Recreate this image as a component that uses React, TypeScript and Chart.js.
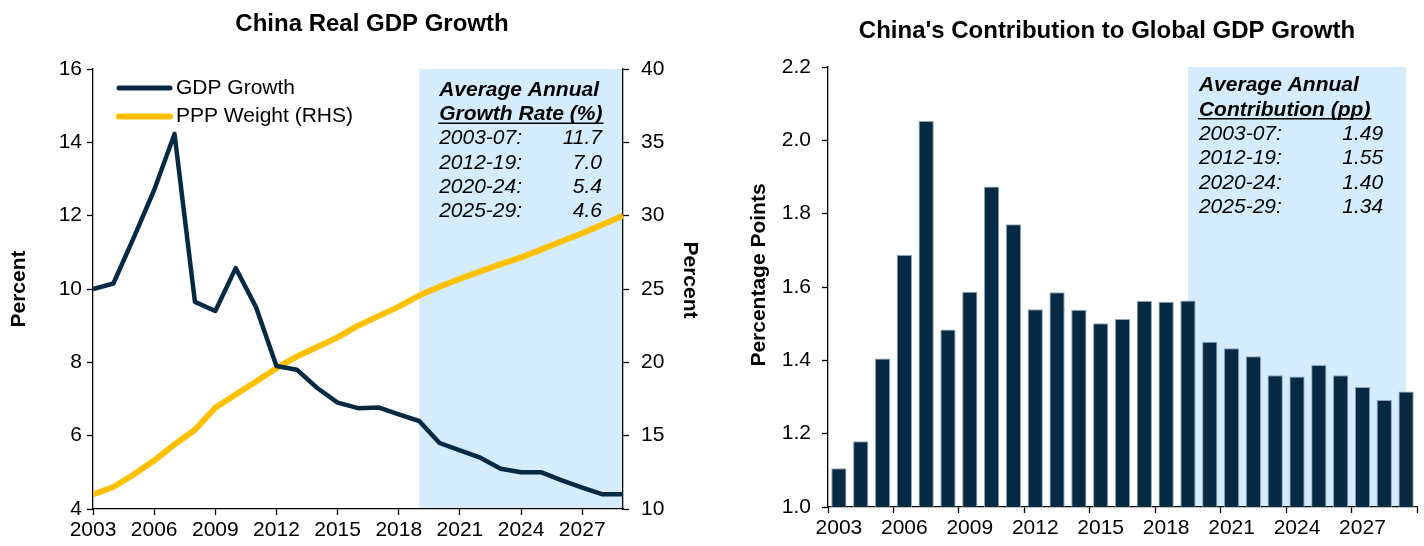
import React, { useEffect, useRef } from 'react';
import { Chart, registerables } from 'chart.js';

Chart.register(...registerables);

// ---------- data ----------
const YEARS = [2003, 2004, 2005, 2006, 2007, 2008, 2009, 2010, 2011, 2012, 2013, 2014, 2015, 2016, 2017, 2018, 2019, 2020, 2021, 2022, 2023, 2024, 2025, 2026, 2027, 2028, 2029];
const GDP_GROWTH = [10.0, 10.15, 11.4, 12.7, 14.23, 9.65, 9.4, 10.57, 9.5, 7.9, 7.8, 7.3, 6.9, 6.75, 6.77, 6.58, 6.4, 5.8, 5.6, 5.4, 5.1, 5.0, 5.0, 4.78, 4.58, 4.4, 4.4];
const PPP_WEIGHT = [11.0, 11.5, 12.35, 13.3, 14.4, 15.4, 16.9, 17.8, 18.7, 19.6, 20.4, 21.05, 21.7, 22.5, 23.15, 23.8, 24.55, 25.15, 25.7, 26.2, 26.7, 27.15, 27.7, 28.25, 28.8, 29.4, 30.0];
const LEFT_X_TICKS = [2003, 2006, 2009, 2012, 2015, 2018, 2021, 2024, 2027];
const SHADE_START = 2019;
const SHADE_END = 2029;

const CONTRIB_LABELS = YEARS.map((y) => String(y));
const CONTRIB = [1.106, 1.179, 1.405, 1.687, 2.053, 1.484, 1.587, 1.874, 1.771, 1.539, 1.586, 1.538, 1.501, 1.513, 1.562, 1.560, 1.563, 1.451, 1.433, 1.411, 1.359, 1.356, 1.387, 1.359, 1.327, 1.292, 1.315];

const PERIODS = ['2003-07:', '2012-19:', '2020-24:', '2025-29:'];
const GROWTH_AVGS = ['11.7', '7.0', '5.4', '4.6'];
const CONTRIB_AVGS = ['1.49', '1.55', '1.40', '1.34'];

const LEFT_TITLE = 'China Real GDP Growth';
const RIGHT_TITLE = "China's Contribution to Global GDP Growth";

// ---------- style ----------
const FONT = '"Liberation Sans", Arial, Helvetica, sans-serif';
const NAVY = '#062a44';
const GOLD = '#ffc000';
const SHADE = '#d4ecfc';
const W = 712;
const H = 546;

Chart.defaults.font.family = FONT;
Chart.defaults.color = '#000';

const tickFont = { family: FONT, size: 21 };

function drawAnnotation(ctx: CanvasRenderingContext2D, left: number, right: number, top: number, head1: string, head2: string, values: string[]) {
  ctx.save();
  ctx.fillStyle = '#000';
  ctx.textBaseline = 'middle';
  ctx.textAlign = 'left';
  ctx.font = `italic bold 21px ${FONT}`;
  ctx.fillText(head1, left, top);
  ctx.fillText(head2, left, top + 24.3);
  const w = ctx.measureText(head2).width;
  ctx.strokeStyle = '#000';
  ctx.lineWidth = 1.6;
  ctx.beginPath();
  ctx.moveTo(left - 1, top + 24.3 + 9);
  ctx.lineTo(left + w + 1, top + 24.3 + 9);
  ctx.stroke();
  ctx.font = `italic 21px ${FONT}`;
  PERIODS.forEach((p, i) => {
    const y = top + 24.3 * (i + 2);
    ctx.textAlign = 'left';
    ctx.fillText(p, left, y);
    ctx.textAlign = 'right';
    ctx.fillText(values[i], right, y);
  });
  ctx.restore();
}

function drawRotated(ctx: CanvasRenderingContext2D, text: string, x: number, y: number, angle: number) {
  ctx.save();
  ctx.translate(x, y);
  ctx.rotate(angle);
  ctx.font = `bold 21px ${FONT}`;
  ctx.fillStyle = '#000';
  ctx.textAlign = 'center';
  ctx.textBaseline = 'alphabetic';
  ctx.fillText(text, 0, 0);
  ctx.restore();
}

const leftPlugin = {
  id: 'leftDecor',
  beforeDraw(chart: any) {
    const { ctx, chartArea, scales } = chart;
    const x0 = scales.x.getPixelForValue(SHADE_START);
    const x1 = scales.x.getPixelForValue(SHADE_END);
    ctx.save();
    ctx.fillStyle = SHADE;
    ctx.fillRect(x0, chartArea.top, x1 - x0, chartArea.bottom - chartArea.top);
    ctx.restore();
  },
  afterDraw(chart: any) {
    const { ctx, chartArea, scales } = chart;
    const x0 = scales.x.getPixelForValue(SHADE_START);
    const x1 = scales.x.getPixelForValue(SHADE_END);
    drawAnnotation(ctx, x0 + 20, x1 - 21, chartArea.top + 21, 'Average Annual', 'Growth Rate (%)', GROWTH_AVGS);
    // title
    ctx.save();
    ctx.font = `bold 24px ${FONT}`;
    ctx.fillStyle = '#000';
    ctx.textAlign = 'center';
    ctx.textBaseline = 'alphabetic';
    ctx.fillText(LEFT_TITLE, 372, 31);
    ctx.restore();
    // axis titles
    drawRotated(ctx, 'Percent', 25, 289, -Math.PI / 2);
    drawRotated(ctx, 'Percent', 684, 280, Math.PI / 2);
    // legend
    ctx.save();
    ctx.lineCap = 'round';
    ctx.lineWidth = 5;
    ctx.strokeStyle = NAVY;
    ctx.beginPath();
    ctx.moveTo(119, 88);
    ctx.lineTo(170, 88);
    ctx.stroke();
    ctx.lineWidth = 6;
    ctx.strokeStyle = GOLD;
    ctx.beginPath();
    ctx.moveTo(119, 116.5);
    ctx.lineTo(170, 116.5);
    ctx.stroke();
    ctx.font = `21px ${FONT}`;
    ctx.fillStyle = '#000';
    ctx.textAlign = 'left';
    ctx.textBaseline = 'middle';
    ctx.fillText('GDP Growth', 176, 88);
    ctx.fillText('PPP Weight (RHS)', 176, 116.5);
    ctx.restore();
  },
};

const rightPlugin = {
  id: 'rightDecor',
  beforeDraw(chart: any) {
    const { ctx, chartArea, scales } = chart;
    const x0 = scales.x.getPixelForValue(YEARS.indexOf(SHADE_START));
    const x1 = scales.x.getPixelForValue(YEARS.indexOf(SHADE_END));
    ctx.save();
    ctx.fillStyle = SHADE;
    ctx.fillRect(x0, chartArea.top, x1 - x0, chartArea.bottom - chartArea.top);
    ctx.restore();
  },
  afterDraw(chart: any) {
    const { ctx, chartArea, scales } = chart;
    const x0 = scales.x.getPixelForValue(YEARS.indexOf(SHADE_START));
    const x1 = scales.x.getPixelForValue(YEARS.indexOf(SHADE_END));
    drawAnnotation(ctx, x0 + 11, x1 - 23, chartArea.top + 18.5, 'Average Annual', 'Contribution (pp)', CONTRIB_AVGS);
    ctx.save();
    ctx.font = `bold 24px ${FONT}`;
    ctx.fillStyle = '#000';
    ctx.textAlign = 'center';
    ctx.textBaseline = 'alphabetic';
    ctx.fillText(RIGHT_TITLE, 1107 - W, 38);
    ctx.restore();
    drawRotated(ctx, 'Percentage Points', 765 - W, 275, -Math.PI / 2);
  },
};

const axisGrid = { drawOnChartArea: false, tickLength: 6, tickColor: '#000', tickWidth: 1.3 };
const axisBorder = { color: '#000', width: 1.3 };

function LeftChart() {
  const ref = useRef<HTMLCanvasElement | null>(null);
  useEffect(() => {
    if (!ref.current) return;
    const chart = new Chart(ref.current, {
      type: 'line',
      data: {
        datasets: [
          {
            label: 'GDP Growth',
            data: YEARS.map((y, i) => ({ x: y, y: GDP_GROWTH[i] })),
            borderColor: NAVY,
            borderWidth: 4.5,
            pointRadius: 0,
            tension: 0,
            yAxisID: 'y',
            borderJoinStyle: 'round',
          },
          {
            label: 'PPP Weight (RHS)',
            data: YEARS.map((y, i) => ({ x: y, y: PPP_WEIGHT[i] })),
            borderColor: GOLD,
            borderWidth: 6,
            pointRadius: 0,
            tension: 0,
            yAxisID: 'y1',
            borderJoinStyle: 'round',
          },
        ],
      },
      options: {
        responsive: false,
        animation: false,
        events: [],
        layout: { padding: { top: 69, left: 0, right: 0, bottom: 0 } },
        plugins: { legend: { display: false }, tooltip: { enabled: false }, title: { display: false } },
        scales: {
          x: {
            type: 'linear',
            min: 2003,
            max: 2029,
            afterBuildTicks: (s: any) => {
              s.ticks = LEFT_X_TICKS.map((v) => ({ value: v }));
            },
            afterFit: (s: any) => {
              s.height = 37;
            },
            ticks: { callback: (v: any) => String(v), font: tickFont, color: '#000', padding: 3, maxRotation: 0, autoSkip: false },
            grid: axisGrid,
            border: axisBorder,
          },
          y: {
            position: 'left',
            min: 4,
            max: 16,
            afterFit: (s: any) => {
              s.width = 93;
            },
            ticks: { stepSize: 2, font: tickFont, color: '#000', padding: 5 },
            grid: axisGrid,
            border: axisBorder,
          },
          y1: {
            position: 'right',
            min: 10,
            max: 40,
            afterFit: (s: any) => {
              s.width = W - 623;
            },
            ticks: { stepSize: 5, font: tickFont, color: '#000', padding: 12 },
            grid: axisGrid,
            border: axisBorder,
          },
        },
      } as any,
      plugins: [leftPlugin],
    });
    return () => chart.destroy();
  }, []);
  return <canvas ref={ref} width={W} height={H} style={{ width: W, height: H, display: 'block' }} />;
}

function RightChart() {
  const ref = useRef<HTMLCanvasElement | null>(null);
  useEffect(() => {
    if (!ref.current) return;
    const chart = new Chart(ref.current, {
      type: 'bar',
      data: {
        labels: CONTRIB_LABELS,
        datasets: [
          {
            label: 'Contribution',
            data: CONTRIB,
            backgroundColor: NAVY,
            borderColor: '#8ea3b6',
            borderWidth: 1,
            barPercentage: 0.7,
            categoryPercentage: 1,
          },
        ],
      },
      options: {
        responsive: false,
        animation: false,
        events: [],
        layout: { padding: { top: 67, left: 0, right: 7, bottom: 0 } },
        plugins: { legend: { display: false }, tooltip: { enabled: false }, title: { display: false } },
        scales: {
          x: {
            afterFit: (s: any) => {
              s.height = 39;
            },
            ticks: {
              autoSkip: false,
              maxRotation: 0,
              font: tickFont,
              color: '#000',
              padding: 3,
              callback: (_v: any, i: number) => (i % 3 === 0 ? CONTRIB_LABELS[i] : ''),
            },
            grid: {
              offset: true,
              drawOnChartArea: false,
              tickLength: 6,
              tickWidth: 1.3,
              tickColor: (c: any) => (c.index === undefined || c.index % 3 === 0 ? '#000' : 'rgba(0,0,0,0)'),
            },
            border: axisBorder,
          },
          y: {
            min: 1.0,
            max: 2.2,
            afterFit: (s: any) => {
              s.width = 116;
            },
            ticks: { stepSize: 0.2, font: tickFont, color: '#000', padding: 11, callback: (v: any) => Number(v).toFixed(1) },
            grid: axisGrid,
            border: axisBorder,
          },
        },
      } as any,
      plugins: [rightPlugin],
    });
    return () => chart.destroy();
  }, []);
  return <canvas ref={ref} width={W} height={H} style={{ width: W, height: H, display: 'block' }} />;
}

export default function App() {
  return (
    <div style={{ position: 'fixed', left: 0, top: 0, width: 1424, height: 546, background: '#fff', overflow: 'hidden' }}>
      <div style={{ position: 'absolute', left: 0, top: 0 }}>
        <LeftChart />
      </div>
      <div style={{ position: 'absolute', left: W, top: 0 }}>
        <RightChart />
      </div>
    </div>
  );
}
